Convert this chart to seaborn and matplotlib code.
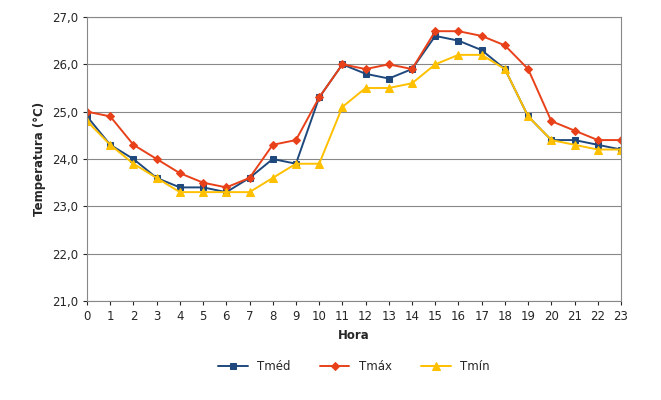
import matplotlib
matplotlib.use("Agg")
import matplotlib.pyplot as plt
import seaborn as sns
import pandas as pd

hours = list(range(24))
tmed = [24.9,24.3,24.0,23.6,23.4,23.4,23.3,23.6,24.0,23.9,25.3,26.0,25.8,25.7,25.9,26.6,26.5,26.3,25.9,24.9,24.4,24.4,24.3,24.2]
tmax = [25.0,24.9,24.3,24.0,23.7,23.5,23.4,23.6,24.3,24.4,25.3,26.0,25.9,26.0,25.9,26.7,26.7,26.6,26.4,25.9,24.8,24.6,24.4,24.4]
tmin = [24.8,24.3,23.9,23.6,23.3,23.3,23.3,23.3,23.6,23.9,23.9,25.1,25.5,25.5,25.6,26.0,26.2,26.2,25.9,24.9,24.4,24.3,24.2,24.2]

sns.set_style("white")
plt.rcParams['font.family'] = ['DejaVu Sans']
fig = plt.figure(figsize=(6.61, 4.0), dpi=100)
ax = fig.add_axes([87/661, 1-301/400, (621-87)/661, (301-17)/400])

series = [("Tméd", tmed, "#1F497D", "s", 5), ("Tmáx", tmax, "#E8411A", "D", 4.5), ("Tmín", tmin, "#FFC000", "^", 5.5)]
for name, vals, c, m, ms in series:
    df = pd.DataFrame({"h": hours, "v": vals})
    sns.lineplot(data=df, x="h", y="v", ax=ax, color=c, marker=m, markersize=ms,
                 markeredgecolor=c, linewidth=1.4, label=name)

ax.set_xlim(0, 23)
ax.set_ylim(21, 27)
ax.set_xticks(hours)
ax.set_yticks([21,22,23,24,25,26,27])
ax.set_yticklabels([f"{v:.1f}".replace(".", ",") for v in [21,22,23,24,25,26,27]])
ax.tick_params(labelsize=8.5, length=3, direction="out", left=True, bottom=True)
ax.grid(axis="y", color="#888888", linewidth=0.8)
for s in ax.spines.values():
    s.set_color("#888888")
ax.set_xlabel("Hora", fontsize=8.5, fontweight="bold", labelpad=4)
ax.set_ylabel("Temperatura (°C)", fontsize=8.5, fontweight="bold")
ax.legend(loc="upper center", bbox_to_anchor=(0.5, -0.17), ncol=3, frameon=False,
          fontsize=8.5, handlelength=2.5, columnspacing=2.5)
fig.savefig("out.png", dpi=100)
